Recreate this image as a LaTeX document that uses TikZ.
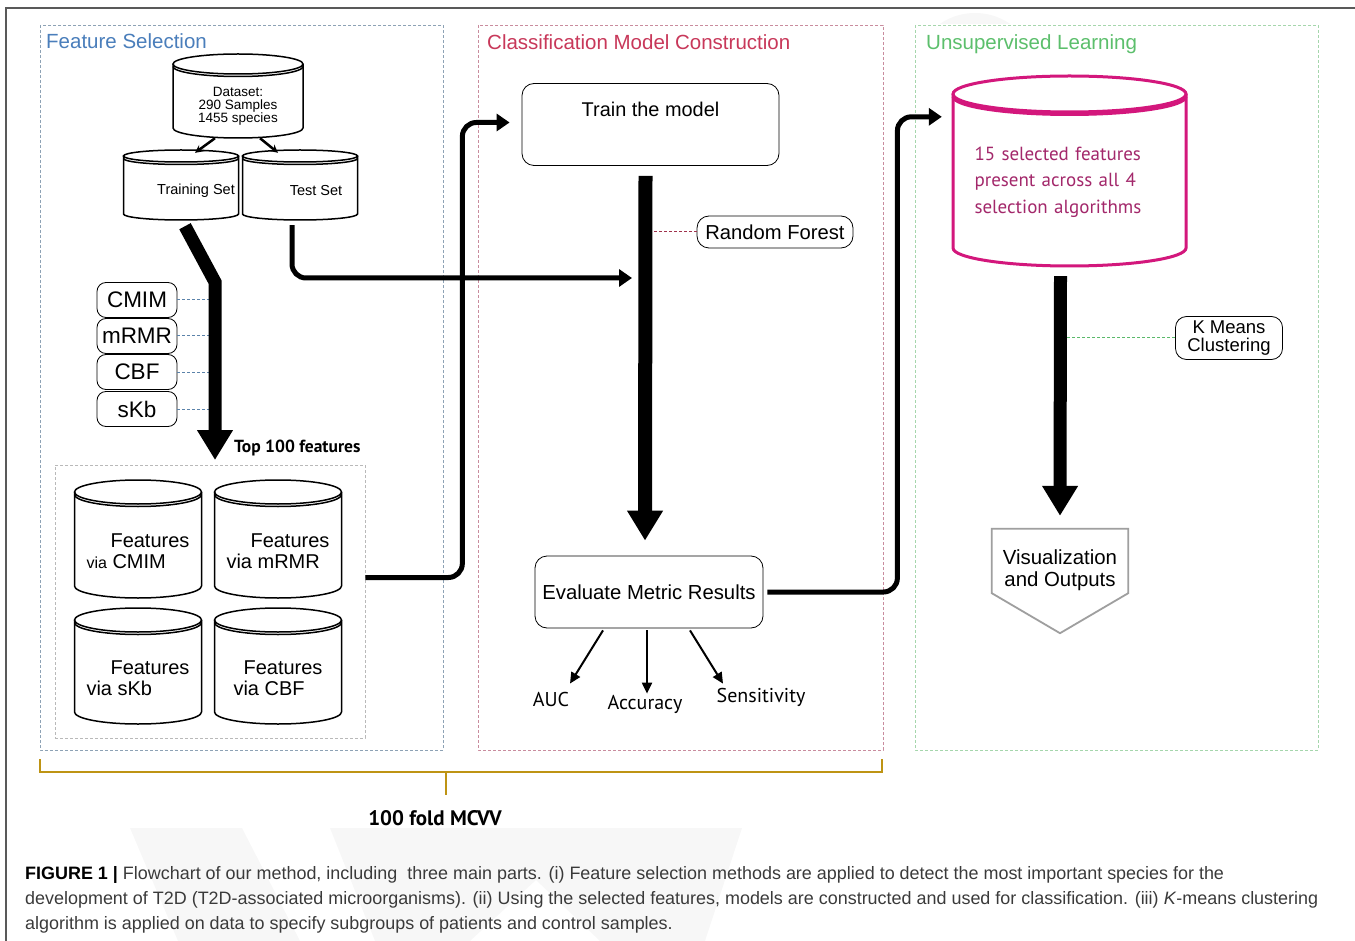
\documentclass[tikz,border=0pt]{standalone}
\usepackage{fontspec}
\setmainfont{Liberation Sans}
\newfontfamily\myriad{PT Sans}
\usepackage{tikz}
\usetikzlibrary{arrows.meta}
\definecolor{selblue}{HTML}{4A7EBB}
\definecolor{clsred}{HTML}{C8385A}
\definecolor{unsgreen}{HTML}{5CBF6C}
\definecolor{selframe}{HTML}{8DA2B5}
\definecolor{clsframe}{HTML}{C98C9E}
\definecolor{unsframe}{HTML}{A5D6AC}
\definecolor{tieblue}{HTML}{5B83AA}
\definecolor{tiered}{HTML}{A0324D}
\definecolor{tiegreen}{HTML}{5AB96A}
\definecolor{magdrum}{HTML}{D3177C}
\definecolor{magtext}{HTML}{A3286B}
\definecolor{bracegold}{HTML}{BE9414}
\definecolor{captext}{HTML}{3A3A3A}
\tikzset{>=stealth}
\tikzset{
  panel/.style={densely dashed, line width=0.7pt},
  paneltitle/.style={anchor=base west, inner sep=0pt, font=\fontsize{20.5}{22}\selectfont},
  roundbox/.style={draw, rounded corners=11pt, line width=0.8pt, inner sep=0pt},
  methodbox/.style={roundbox, rounded corners=9pt, minimum width=80pt, minimum height=35pt, font=\fontsize{22.5}{24}\selectfont},
  bigflow/.style={line width=13pt, -{Triangle[length=30pt,width=34pt]}},
  flowline/.style={line width=5pt, rounded corners=14pt, -{Triangle[length=13pt,width=17pt]}},
  metricarrow/.style={line width=2pt, -{Triangle[length=11pt,width=10pt]}},
  metric/.style={inner sep=0pt, font=\myriad\fontsize{20}{22}\selectfont},
  drumline/.style={line width=1.5pt},
  featfont/.style={font=\fontsize{20}{21}\selectfont, align=left},
  tie/.style={densely dashed, line width=1pt},
  caption/.style={anchor=base west, inner sep=0pt, text=captext, font=\fontsize{17.95}{20}\selectfont}
}
\newcommand{\drum}[8][]{%
  \draw[drumline] (#3,#4+#7) ellipse [x radius=#5/2*1pt, y radius=#7*1pt];
  \draw[drumline] (#3-#5/2,#4+#7) -- (#3-#5/2,#4+#6-#7)
    arc [start angle=180, end angle=360, x radius=#5/2*1pt, y radius=#7*1pt] -- (#3+#5/2,#4+#7);
  \draw[drumline] (#3-#5/2,#4+#7+2.5) arc [start angle=180, end angle=360, x radius=#5/2*1pt, y radius=#7*1pt];
  \node[inner sep=0pt, minimum width=#5pt, minimum height={(#6-2*#7)*1pt}, #1] (#2) at (#3,{#4+(#6+2*#7)/2}) {#8};
}

\begin{document}
\begin{tikzpicture}[x=1pt, y=-1pt]
  \useasboundingbox (0,0) rectangle (1355,941);
  \fill[gray!6] (975,75) circle [radius=62pt];
  \fill[gray!6] (130,828) -- (242,828) -- (300,941) -- (178,941) -- cycle;
  \fill[gray!6] (330,828) -- (742,828) -- (705,941) -- (600,941) -- (536,880) -- (470,941) -- (375,941) -- cycle;
  \fill[white] (8,24) rectangle (1355,828);
  \draw[gray!70!black, line width=1.6pt] (6,941) -- (6,8) -- (1355,8);

  \draw[panel, draw=selframe] (40,25) rectangle (443,750);
  \draw[panel, draw=clsframe] (478,25) rectangle (883,750);
  \draw[panel, draw=unsframe] (915,25) rectangle (1318,750);
  \node[paneltitle, text=selblue] (fstitle) at (46,49) {Feature Selection};
  \node[paneltitle, text=clsred] (cmtitle) at (487,50) {Classification Model Construction};
  \node[paneltitle, text=unsgreen] (ultitle) at (926,50) {Unsupervised Learning};

  \drum[font=\fontsize{13.5}{13}\selectfont, align=center]{data}{238}{54}{130}{84}{10}{Dataset:\\290 Samples\\1455 species}
  \drum[font=\fontsize{14.5}{16}\selectfont]{train}{181}{150}{115}{70}{6}{\hspace*{30pt}Training Set}
  \drum[font=\fontsize{14.5}{16}\selectfont]{test}{300}{150}{115}{70}{6}{\hspace*{32pt}Test Set}
  \draw[->, line width=2.5pt] ([xshift=-23pt]data.south) -- ([xshift=14pt,yshift=9pt]train.north);
  \draw[->, line width=2.5pt] ([xshift=22pt]data.south) -- ([xshift=-22pt,yshift=9pt]test.north);

  \coordinate (fsbend) at (215,282);
  \coordinate (fsend) at (215,460);
  \coordinate (cmbar) at (645,278);
  \node[methodbox] (cmim) at (137,300) {CMIM};
  \node[methodbox] (mrmr) at (137,336) {mRMR};
  \node[methodbox] (cbf) at (137,372) {CBF};
  \node[methodbox] (skb) at (137,409) {sKb};
  \foreach \m in {cmim,mrmr,cbf,skb}
    \draw[tie, draw=tieblue] (\m.east) -- (\m.east -| fsbend);
  \draw[bigflow] ([xshift=4pt,yshift=-6pt]train.south) -- (fsbend) -- (fsend);
  \node[anchor=base west, inner sep=0pt, font=\myriad\bfseries\fontsize{17.5}{20}\selectfont] (top100) at (234,452) {Top 100 features};
  \draw[flowline] ([xshift=-8pt,yshift=-5pt]test.south) |- ([xshift=-13pt]cmbar);

  \node[panel, draw=gray!55, minimum width=310pt, minimum height=273pt, inner sep=0pt] (fbox) at (210,601.5) {};
  \drum[featfont]{fcmim}{138}{480}{127}{118}{12}{\hspace*{24pt}Features\\{\fontsize{16}{18}\selectfont via} CMIM}
  \drum[featfont]{fmrmr}{278}{480}{127}{118}{12}{\hspace*{24pt}Features\\via mRMR}
  \drum[featfont]{fskb}{138}{608}{127}{116}{12}{\hspace*{24pt}Features\\via sKb}
  \drum[featfont]{fcbf}{278}{608}{127}{116}{12}{\hspace*{10pt}Features\\via CBF}

  \node[roundbox, rounded corners=12pt, minimum width=257pt, minimum height=82pt] (trainbox) at (650.5,124.5) {};
  \node[anchor=base, font=\fontsize{19.9}{22}\selectfont] (traintext) at ([yshift=-33pt]trainbox.north) {Train the model};
  \draw[flowline] ([yshift=24pt]fbox.east) -- ++(97,0) |- ([xshift=-12pt,yshift=2pt]trainbox.west);

  \node[roundbox, rounded corners=12pt, minimum width=228pt, minimum height=72pt, font=\fontsize{20.3}{22}\selectfont] (evalbox) at (649,592) {Evaluate Metric Results};
  \node[roundbox, rounded corners=12pt, minimum width=156pt, minimum height=32pt, font=\fontsize{20.2}{22}\selectfont] (rf) at (775,232) {Random Forest};
  \draw[tie, draw=tiered] (rf.west) -- (rf.west -| cmbar);
  \draw[bigflow, line width=14pt] ([xshift=-5pt,yshift=-10pt]trainbox.south) -- ([xshift=-4pt,yshift=15pt]evalbox.north);

  \node[metric] (auc) at (551,699) {AUC};
  \node[metric] (acc) at (645,704) {Accuracy};
  \node[metric] (sens) at (761,697) {Sensitivity};
  \draw[metricarrow] ([xshift=-46pt,yshift=-2pt]evalbox.south) -- ([xshift=19pt,yshift=8pt]auc.north);
  \draw[metricarrow] ([xshift=-2pt,yshift=-2pt]evalbox.south) -- ([xshift=2pt,yshift=1pt]acc.north);
  \draw[metricarrow] ([xshift=41pt,yshift=-2pt]evalbox.south) -- ([xshift=-38pt,yshift=4pt]sens.north);

  \begin{scope}[drumline/.style={draw=magdrum, line width=3pt}]
    \drum[text=magtext, font=\myriad\fontsize{19}{26.5}\selectfont, align=left, text width=190pt]{common}{1069.5}{76}{233}{190}{18}{15 selected features\\present across all 4\\selection algorithms\\[-8pt]\mbox{}}
  \end{scope}
  \draw[flowline] ([xshift=4pt]evalbox.east) -- ++(130,0) |- ([xshift=-11pt,yshift=-5pt]common.north west);

  \node[inner sep=0pt, minimum width=136pt, minimum height=64pt, align=center, font=\fontsize{20.4}{22}\selectfont] (vis) at (1060,561) {\strut\\[-4pt]Visualization\\and Outputs};
  \draw[gray!75, line width=1.8pt] (vis.south west) -- (vis.north west) -- (vis.north east) -- (vis.south east) -- ([yshift=-40pt]vis.south) -- cycle;
  \node[roundbox, rounded corners=11pt, minimum width=107pt, minimum height=43pt, align=center, font=\fontsize{18.5}{17.5}\selectfont] (kmeans) at (1229,338) {K Means\\Clustering};
  \draw[tie, draw=tiegreen] (kmeans.west) -- (kmeans.west -| vis.north);
  \draw[bigflow] ([xshift=-9pt,yshift=-10pt]common.south) -- ([yshift=13pt]vis.north);

  \draw[bracegold, line width=2pt] (40,759) |- (882,772) -- (882,759) (446,772) -- (446,795);
  \node[font=\myriad\bfseries\fontsize{21}{22}\selectfont] (mcvv) at (435,818) {100 fold MCVV};

  \node[caption] (cap1) at (25,879) {{\color{black}\bfseries FIGURE 1 |} Flowchart of our method, including\ \ three main parts. (i) Feature selection methods are applied to detect the most important species for the};
  \node[caption] (cap2) at (25,904) {development of T2D (T2D-associated microorganisms). (ii) Using the selected features, models are constructed and used for classification. (iii) \textit{K}-means clustering};
  \node[caption] (cap3) at (25,929) {algorithm is applied on data to specify subgroups of patients and control samples.};
\end{tikzpicture}
\end{document}
